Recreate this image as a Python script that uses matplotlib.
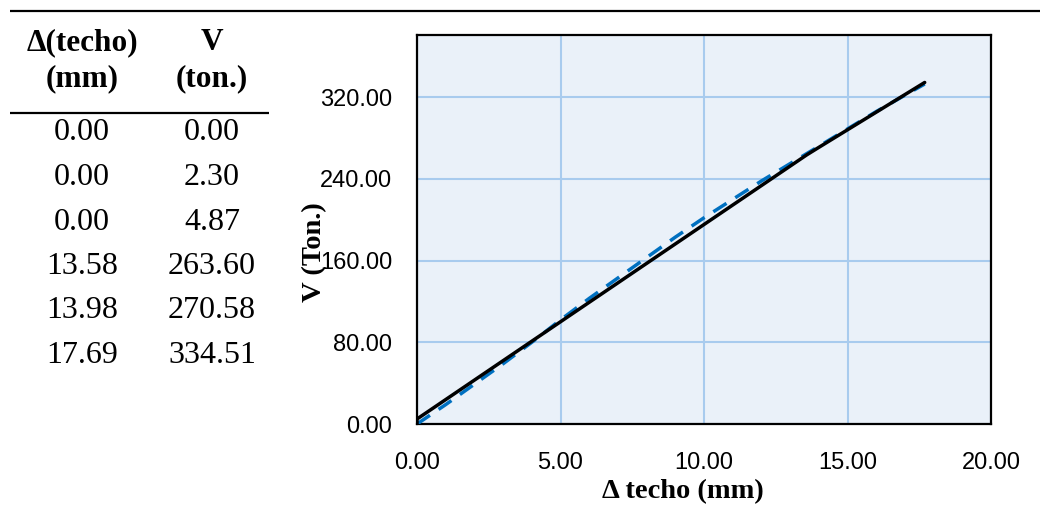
import matplotlib
matplotlib.use("Agg")
import matplotlib.pyplot as plt

# Table / black curve data
delta_techo = [0.00, 0.00, 0.00, 13.58, 13.98, 17.69]
v_ton = [0.00, 2.30, 4.87, 263.60, 270.58, 334.51]

# Blue dashed curve
dash_x = [0, 1, 2, 3, 4, 5, 6, 7, 8, 9, 10, 11, 12, 13, 14, 15, 16, 17, 17.69]
dash_y = [0, 19, 39, 59, 80, 102, 123, 143, 163, 183, 202, 220, 238, 255, 272, 289, 306, 322, 333]

x_ticks = [0, 5, 10, 15, 20]
y_ticks = [0, 80, 160, 240, 320]

W, H = 1040, 511
fig = plt.figure(figsize=(W / 100, H / 100), dpi=100)

serif = ["Liberation Serif", "DejaVu Serif"]
sans = ["Liberation Sans Narrow", "Liberation Sans", "DejaVu Sans"]

# overlay in pixel coordinates for the table and axis titles
tab = fig.add_axes([0, 0, 1, 1])
tab.set_xlim(0, W)
tab.set_ylim(H, 0)
tab.axis("off")

tab.plot([10, W], [11, 11], color="black", lw=1.6, solid_capstyle="butt")
tab.plot([10, 269], [113, 113], color="black", lw=1.6, solid_capstyle="butt")

col_x = [82, 212]
hdr = dict(ha="center", va="center", fontsize=22.5, fontweight="bold", family=serif)
tab.text(col_x[0], 43, "\u0394(techo)", **hdr)
tab.text(col_x[0], 79, "(mm)", **hdr)
tab.text(col_x[1], 43, "V", **hdr)
tab.text(col_x[1], 79, "(ton.)", **hdr)

for i, (d, v) in enumerate(zip(delta_techo, v_ton)):
    yy = 133 + i * 44.5
    tab.text(col_x[0], yy, f"{d:.2f}", ha="center", va="center", fontsize=23, family=serif)
    tab.text(col_x[1], yy, f"{v:.2f}", ha="center", va="center", fontsize=23, family=serif)

# chart
ax = fig.add_axes([417 / W, (H - 424) / H, (991 - 417) / W, (424 - 35) / H])
ax.set_facecolor("#EAF1F9")
ax.plot(dash_x, dash_y, color="#0070C0", lw=2.5, dashes=(4.5, 3.0), zorder=3)
ax.plot(delta_techo, v_ton, color="black", lw=2.5, solid_capstyle="round", zorder=4)

ax.set_xlim(0, 20)
ax.set_ylim(0, 381)
ax.set_xticks(x_ticks)
ax.set_yticks(y_ticks)
ax.set_xticklabels([f"{t:.2f}" for t in x_ticks], family=sans, fontsize=17)
ax.set_yticklabels([f"{t:.2f}" for t in y_ticks], family=sans, fontsize=17)
ax.tick_params(length=0)
ax.tick_params(axis="x", pad=20)
ax.tick_params(axis="y", pad=18)
ax.grid(True, color="#A8CBEE", lw=1.5)
ax.set_axisbelow(True)
for s in ax.spines.values():
    s.set_linewidth(1.6)
    s.set_color("black")

tab.text(683, 492, "\u0394 techo (mm)", ha="center", va="center", family=serif, fontsize=20.5, fontweight="bold")
tab.text(315, 252, "V (Ton.)", rotation=90, ha="center", va="center", family=serif, fontsize=20.5, fontweight="bold")

fig.savefig("out.png", dpi=100)
